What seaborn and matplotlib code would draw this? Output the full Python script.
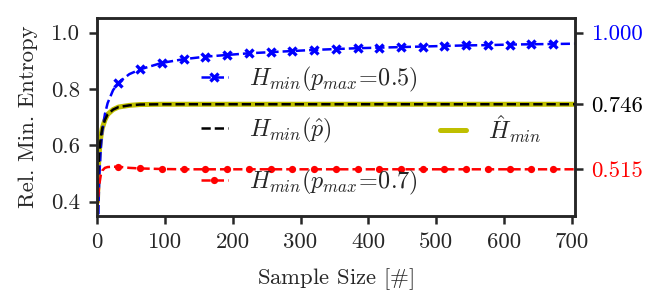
import numpy as np
import matplotlib
matplotlib.use('Agg')
import matplotlib.pyplot as plt
from matplotlib.lines import Line2D
import seaborn as sns

# sample sizes
sizes = [1, 2, 3, 4, 6, 8, 12, 16, 24, 32, 48, 64, 96, 128, 160, 192, 224,
         256, 288, 320, 352, 384, 416, 448, 480, 512, 544, 576, 608, 640,
         672, 704]
h_p05 = [0.0, 0.293, 0.423, 0.5, 0.592, 0.646, 0.711, 0.75, 0.796, 0.823,
         0.853, 0.870, 0.893, 0.906, 0.915, 0.921, 0.927, 0.931, 0.935,
         0.939, 0.942, 0.945, 0.947, 0.949, 0.951, 0.953, 0.955, 0.956,
         0.958, 0.959, 0.960, 0.961]
h_phat = [0.40, 0.50, 0.55, 0.585, 0.63, 0.66, 0.69, 0.71, 0.727, 0.736,
          0.742, 0.745, 0.746, 0.746, 0.746, 0.746, 0.746, 0.746, 0.746,
          0.746, 0.746, 0.746, 0.746, 0.746, 0.746, 0.746, 0.746, 0.746,
          0.746, 0.746, 0.746, 0.746]
h_hat = h_phat
h_p07 = [0.37, 0.41, 0.44, 0.465, 0.495, 0.51, 0.52, 0.523, 0.524, 0.524,
         0.52, 0.518, 0.516, 0.515, 0.515, 0.515, 0.515, 0.515, 0.515,
         0.515, 0.515, 0.515, 0.515, 0.515, 0.515, 0.515, 0.515, 0.515,
         0.515, 0.515, 0.515, 0.515]
right_ticks = [1.0, 0.746, 0.515]
right_labels = ['1.000', '0.746', '0.515']
right_colors = ['b', 'k', 'r']


def main():
    sns.set_style('ticks')
    plt.rcParams['font.family'] = 'cmr10'
    plt.rcParams['mathtext.fontset'] = 'cm'
    plt.rcParams['axes.unicode_minus'] = False
    plt.rcParams['font.size'] = 8.2
    plt.rcParams['axes.linewidth'] = 0.9
    plt.rcParams['xtick.major.width'] = 0.9
    plt.rcParams['ytick.major.width'] = 0.9

    fig = plt.figure(figsize=(3.325, 1.53), dpi=200)
    ax = fig.add_axes([0.1455, 0.294, 0.719, 0.646])

    x = np.array(sizes)
    marks = list(np.where((x % 32 == 0) & (x < 704))[0])
    blue_kw = dict(color='b', ls='--', lw=0.9, marker='x', ms=3.2,
                   markeredgewidth=1.2, markeredgecolor='b')
    red_kw = dict(color='r', ls='--', lw=0.9, marker='o', ms=2.6,
                  markeredgewidth=0, markerfacecolor='r')

    sns.lineplot(x=sizes, y=h_hat, ax=ax, color='y', lw=1.8)
    sns.lineplot(x=sizes, y=h_p05, ax=ax, markevery=marks, **blue_kw)
    sns.lineplot(x=sizes, y=h_phat, ax=ax, color='k', ls='--', lw=0.9)
    sns.lineplot(x=sizes, y=h_p07, ax=ax, markevery=marks, **red_kw)

    ax.set_xlim(0, 704)
    ax.set_ylim(0.349, 1.051)
    ax.set_xticks(range(0, 701, 100))
    ax.set_yticks([0.4, 0.6, 0.8, 1.0])
    ax.set_xlabel(r'Sample Size [$\#$]', labelpad=5)
    ax.set_ylabel('Rel. Min. Entropy', labelpad=4.8)
    ax.tick_params(length=3, pad=3)

    ax2 = ax.twinx()
    ax2.set_ylim(ax.get_ylim())
    ax2.set_yticks(right_ticks)
    ax2.set_yticklabels(right_labels)
    for lab, c in zip(ax2.get_yticklabels(), right_colors):
        lab.set_color(c)
    ax2.tick_params(length=3, pad=3)

    blank = Line2D([], [], ls='none')
    handles = [
        Line2D([], [], **blue_kw),
        Line2D([], [], color='k', ls='--', lw=0.9),
        Line2D([], [], **red_kw),
        blank,
        Line2D([], [], color='y', lw=1.8),
        blank,
    ]
    labels = [r'$H_{min}(p_{max}\!=\!0.5)$', r'$H_{min}(\hat{p})$',
              r'$H_{min}(p_{max}\!=\!0.7)$', '', r'$\hat{H}_{min}$', '']
    ax.legend(handles, labels, ncol=2, loc='center left',
              bbox_to_anchor=(0.218, 0.432), frameon=False, borderpad=0,
              borderaxespad=0, handlelength=1.1, handletextpad=0.9,
              columnspacing=0.9, labelspacing=0.92, fontsize=8.7)

    fig.savefig('out.png', dpi=200)


if __name__ == '__main__':
    main()
